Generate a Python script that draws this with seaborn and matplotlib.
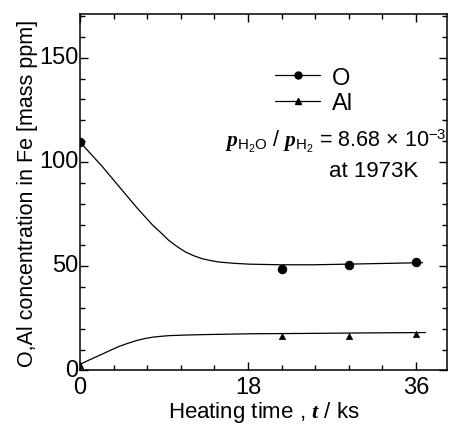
import matplotlib
matplotlib.use("Agg")
import matplotlib.pyplot as plt
import matplotlib.transforms as mtransforms
from matplotlib.lines import Line2D
from matplotlib.ticker import MultipleLocator
import seaborn as sns

# measured points (time in ks, concentration in mass ppm)
time_pts = [0, 21.6, 28.8, 36]
o_pts = [109.5, 48.5, 50.8, 52.2]
al_pts = [2.8, 16.4, 16.4, 17.3]

# fitted curves
o_curve_t = [0, 1.2, 2.4, 3.3, 4.2, 5.1, 6.0, 6.9, 7.8, 8.7, 9.5, 10.4, 11.3, 12.2, 13.1,
             14.0, 14.9, 16.5, 18.1, 21.5, 25, 28.7, 32, 36.7]
o_curve_y = [109.5, 103.6, 97.7, 92.9, 88.1, 83.3, 78.5, 74.0, 69.6, 65.9, 62.4, 59.4, 56.8,
             55.0, 53.6, 52.7, 52.0, 51.4, 51.0, 50.7, 50.7, 51.0, 51.3, 51.7]
al_curve_t = [0, 1.2, 2.4, 3.3, 4.2, 5.1, 6.0, 6.9, 7.8, 8.7, 9.5, 11.3, 13.1, 18.1, 25, 30, 37]
al_curve_y = [3.0, 5.5, 7.9, 9.8, 11.6, 13.0, 14.3, 15.3, 16.0, 16.4, 16.7, 17.0, 17.2, 17.6,
              17.8, 18.0, 18.2]

sns.set_style("ticks")
plt.rcParams['font.family'] = ['Liberation Sans', 'DejaVu Sans']
plt.rcParams['text.color'] = 'black'
plt.rcParams['axes.labelcolor'] = 'black'
plt.rcParams['mathtext.fontset'] = 'custom'
plt.rcParams['mathtext.rm'] = 'Liberation Sans'
plt.rcParams['mathtext.it'] = 'Liberation Serif:italic:bold'
plt.rcParams['mathtext.bf'] = 'Liberation Serif:bold'

fig = plt.figure(figsize=(4.5, 4.27), dpi=100)
ax = fig.add_axes([0.178, 0.130, 0.815, 0.835])

sns.lineplot(x=o_curve_t, y=o_curve_y, ax=ax, color='black', lw=0.9, sort=False, estimator=None)
sns.lineplot(x=al_curve_t, y=al_curve_y, ax=ax, color='black', lw=0.9, sort=False, estimator=None)
sns.scatterplot(x=time_pts, y=o_pts, ax=ax, color='black', marker='o', s=40, edgecolor='black', zorder=3)
sns.scatterplot(x=time_pts, y=al_pts, ax=ax, color='black', marker='^', s=22, edgecolor='black', zorder=3)

ax.set_xlim(0, 39.3)
ax.set_ylim(0, 171)
ax.xaxis.set_major_locator(MultipleLocator(18))
ax.xaxis.set_minor_locator(MultipleLocator(3.6))
ax.yaxis.set_major_locator(MultipleLocator(50))
ax.yaxis.set_minor_locator(MultipleLocator(10))
ax.tick_params(which='both', direction='in', top=True, right=True, width=1, colors='black')
ax.tick_params(which='major', length=6, labelsize=17)
ax.tick_params(which='minor', length=3.5)
ax.tick_params(axis='x', which='major', pad=4)
ax.tick_params(axis='y', which='major', pad=1)
for s in ax.spines.values():
    s.set_linewidth(1.1)
    s.set_color('black')

# lift the y tick labels a little so the two zeros do not collide
lift = mtransforms.ScaledTranslation(0, 2.5 / 72, fig.dpi_scale_trans)
for lbl in ax.get_yticklabels():
    lbl.set_transform(lbl.get_transform() + lift)

ax.set_xlabel('Heating time , $t$ / ks', fontsize=16, labelpad=1)
ax.set_ylabel('O,Al concentration in Fe [mass ppm]', fontsize=15.5, labelpad=1)

handles = [
    Line2D([], [], color='black', lw=0.9, marker='o', markersize=5),
    Line2D([], [], color='black', lw=0.9, marker='^', markersize=4.5),
]
ax.legend(handles, ['O', 'Al'], loc='upper left', bbox_to_anchor=(0.5, 0.885),
          frameon=False, fontsize=17, handlelength=1.9, handletextpad=0.5,
          labelspacing=0.15, borderpad=0)

ax.text(0.998, 0.645, r'$p_{\mathrm{H_2O}}$ / $p_{\mathrm{H_2}}$ = 8.68 × 10$^{-3}$',
        transform=ax.transAxes, ha='right', va='center', fontsize=15.5)
ax.text(0.68, 0.56, 'at 1973K', transform=ax.transAxes, ha='left', va='center', fontsize=16)

fig.savefig('out.png', dpi=100)
